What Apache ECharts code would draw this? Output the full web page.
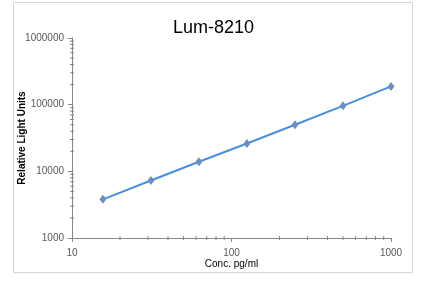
<!DOCTYPE html>
<html><head><meta charset="utf-8">
<script src="https://cdn.jsdelivr.net/npm/echarts@6/dist/echarts.min.js"></script>
<style>html,body{margin:0;padding:0;background:#fff}#c{width:427px;height:281px}</style>
</head><body><div id="c"></div>
<script>
var title = 'Lum-8210';
var xName = 'Conc. pg/ml';
var yName = 'Relative Light Units';
var conc = [15.625, 31.25, 62.5, 125, 250, 500, 1000];
var rlu = [3800, 7300, 13900, 26200, 50000, 96000, 188000];
var xMinorTicks = [20,30,40,50,60,70,80,90,200,300,400,500,600,700,800,900];
var yMinorTicks = [2000,3000,4000,5000,6000,7000,8000,9000,20000,30000,40000,50000,60000,70000,80000,90000,200000,300000,400000,500000,600000,700000,800000,900000];

var chart = echarts.init(document.getElementById('c'), null, {renderer: 'canvas'});
var fmt = function (v) { return String(Math.round(v)); };
var axisCol = '#868686';
chart.setOption({
  backgroundColor: '#fff',
  animation: false,
  title: {
    text: title, left: 'center', top: 14,
    textStyle: {fontFamily: 'Liberation Sans', fontSize: 18, fontWeight: 'normal', color: '#000'}
  },
  graphic: [{
    type: 'rect', shape: {x: 13.5, y: 2.5, width: 399, height: 270},
    style: {fill: null, stroke: '#d4d4d4', lineWidth: 1}, silent: true, z: -1
  }],
  grid: {left: 72, right: 36, top: 38, bottom: 43, containLabel: false, outerBoundsMode: 'none'},
  xAxis: {
    type: 'log', logBase: 10, min: 10, max: 1000,
    name: xName, nameLocation: 'middle', nameGap: 21, nameMoveOverlap: false,
    nameTextStyle: {fontFamily: 'Liberation Sans', fontSize: 10, color: '#000'},
    axisLine: {lineStyle: {color: axisCol, width: 1}},
    axisTick: {show: true, length: 4, lineStyle: {color: axisCol}},
    axisLabel: {formatter: fmt, fontFamily: 'Liberation Sans', fontSize: 10, color: '#595959', margin: 10},
    splitLine: {show: false}
  },
  yAxis: {
    type: 'log', logBase: 10, min: 1000, max: 1000000,
    name: yName, nameLocation: 'middle', nameGap: 45, nameRotate: 90, nameMoveOverlap: false,
    nameTextStyle: {fontFamily: 'Liberation Sans', fontSize: 10, fontWeight: 'bold', color: '#000'},
    axisLine: {show: true, lineStyle: {color: axisCol, width: 1}},
    axisTick: {show: true, length: 4, lineStyle: {color: axisCol}},
    axisLabel: {formatter: fmt, fontFamily: 'Liberation Sans', fontSize: 10, color: '#595959', margin: 8},
    splitLine: {show: false}
  },
  series: [
    {
      type: 'custom', silent: true, clip: false, z: 1,
      data: xMinorTicks.map(function (v) { return [v, 1000]; }),
      renderItem: function (params, api) {
        var p = api.coord([api.value(0), 1000]);
        return {type: 'line', shape: {x1: p[0], y1: p[1] - 2, x2: p[0], y2: p[1] + 2},
                style: {stroke: axisCol, lineWidth: 1}};
      }
    },
    {
      type: 'custom', silent: true, clip: false, z: 1,
      data: yMinorTicks.map(function (v) { return [10, v]; }),
      renderItem: function (params, api) {
        var p = api.coord([10, api.value(1)]);
        return {type: 'line', shape: {x1: p[0] - 2, y1: p[1], x2: p[0] + 2, y2: p[1]},
                style: {stroke: axisCol, lineWidth: 1}};
      }
    },
    {
      type: 'line',
      data: conc.map(function (c, i) { return [c, rlu[i]]; }),
      lineStyle: {color: '#4a8fdc', width: 2},
      symbol: 'diamond', symbolSize: [7, 9],
      itemStyle: {color: '#6b8fc0'},
      z: 3
    }
  ]
});
</script></body></html>
